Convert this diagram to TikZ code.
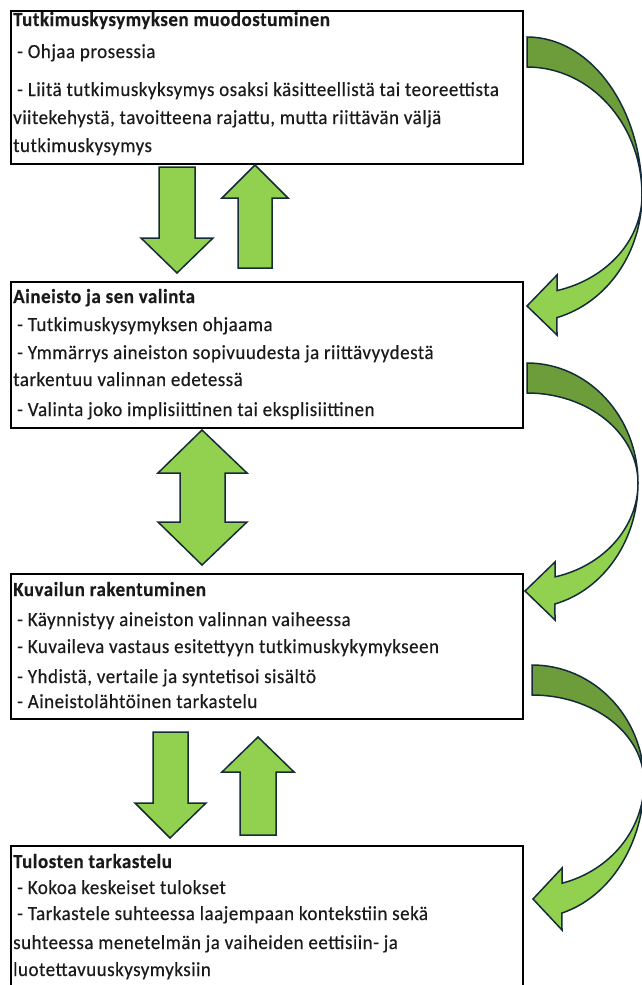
\documentclass[tikz,border=0pt]{standalone}
\usepackage{fontspec}
\setmainfont{Carlito}
\newfontfamily\boxfont[LetterSpace=2.5, FakeStretch=0.95, FakeBold=0.4]{Carlito}

\definecolor{arrowgreen}{HTML}{92D050}
\definecolor{arrowdark}{HTML}{6C9D3A}
\definecolor{arrowline}{HTML}{152C38}
\definecolor{textgray}{HTML}{1A1A1A}

\tikzset{
  stagebox/.style={draw=black, line width=2.4pt, rectangle, inner sep=0pt, anchor=north west, minimum width=512pt},
  headline/.style={anchor=base west, inner sep=0pt, text=textgray, font=\boxfont\fontsize{20}{22}\selectfont\bfseries},
  bodyline/.style={anchor=base west, inner sep=0pt, text=textgray, font=\boxfont\fontsize{20}{22}\selectfont},
  blockarrow/.style={fill=arrowgreen, draw=arrowline, line width=1.5pt, line join=miter},
  backarrow/.style={fill=arrowdark, draw=arrowline, line width=1.5pt},
}

\begin{document}
\begin{tikzpicture}[x=1pt, y=-1pt]
\useasboundingbox (0,0) rectangle (641,985);

% stage boxes
\node[stagebox, minimum height=153pt] (muodostus) at (10,10) {};
\node[stagebox, minimum height=146pt] (aineisto) at (10,281) {};
\node[stagebox, minimum height=145pt] (kuvailu) at (10,573) {};
\node[stagebox, minimum height=150pt] (tulokset) at (10,845) {};

% box texts
\node[headline] (muodT) at (13,26) {Tutkimuskysymyksen muodostuminen};
\node[bodyline] (muodA) at (17,58) {- Ohjaa prosessia};
\node[bodyline] (muodB) at (17,96) {- Liitä tutkimuskyksymys osaksi käsitteellistä tai teoreettista};
\node[bodyline] (muodC) at (13,124) {viitekehystä, tavoitteena rajattu, mutta riittävän väljä};
\node[bodyline] (muodD) at (13,152) {tutkimuskysymys};

\node[headline] (ainT) at (13,303) {Aineisto ja sen valinta};
\node[bodyline] (ainA) at (17,331) {- Tutkimuskysymyksen ohjaama};
\node[bodyline] (ainB) at (17,359) {- Ymmärrys aineiston sopivuudesta ja riittävyydestä};
\node[bodyline] (ainC) at (13,386) {tarkentuu valinnan edetessä};
\node[bodyline] (ainD) at (17,416) {- Valinta joko implisiittinen tai eksplisiittinen};

\node[headline] (kuvT) at (13,596) {Kuvailun rakentuminen};
\node[bodyline] (kuvA) at (17,626) {- Käynnistyy aineiston valinnan vaiheessa};
\node[bodyline] (kuvB) at (17,653) {- Kuvaileva vastaus esitettyyn tutkimuskykymykseen};
\node[bodyline] (kuvC) at (17,683) {- Yhdistä, vertaile ja syntetisoi sisältö};
\node[bodyline] (kuvD) at (17,708) {- Aineistolähtöinen tarkastelu};

\node[headline] (tulT) at (13,868) {Tulosten tarkastelu};
\node[bodyline] (tulA) at (17,894) {- Kokoa keskeiset tulokset};
\node[bodyline] (tulB) at (17,920) {- Tarkastele suhteessa laajempaan kontekstiin sekä};
\node[bodyline] (tulC) at (13,949) {suhteessa menetelmän ja vaiheiden eettisiin- ja};
\node[bodyline] (tulD) at (13,976) {luotettavuuskysymyksiin};

% straight block arrows
\draw[blockarrow] (159,167) -- (195,167) -- (195,238) -- (213,238) -- (177,273) -- (141,238) -- (159,238) -- cycle;
\draw[blockarrow] (238,268) -- (272,268) -- (272,198) -- (288,198) -- (255,165) -- (222,198) -- (238,198) -- cycle;
\draw[blockarrow] (202,430) -- (247,473) -- (225,473) -- (225,522) -- (247,522) -- (202,565) -- (158,522) -- (180,522) -- (180,473) -- (158,473) -- cycle;
\draw[blockarrow] (153,732) -- (188,732) -- (188,803) -- (206,803) -- (170,838) -- (135,803) -- (153,803) -- cycle;
\draw[blockarrow] (240,835) -- (276,835) -- (276,772) -- (294,772) -- (258,737) -- (222,772) -- (240,772) -- cycle;

% curved arrows on the right
\draw[backarrow] (527,37) arc[start angle=-90, end angle=0, x radius=115, y radius=158]
  arc[start angle=0, end angle=-90, x radius=115, y radius=128] -- cycle;
\draw[blockarrow] (642,195) arc[start angle=0, end angle=74.9, x radius=115, y radius=127]
  -- (557,335) -- (527,306) -- (557,275) -- (557,290.6)
  arc[start angle=74.9, end angle=0, x radius=115, y radius=99] -- cycle;

\draw[backarrow] (527,363) arc[start angle=-90, end angle=0, x radius=111, y radius=120]
  arc[start angle=0, end angle=-90, x radius=111, y radius=90] -- cycle;
\draw[blockarrow] (638,483) arc[start angle=0, end angle=75.4, x radius=111, y radius=125]
  -- (555,620) -- (525,591) -- (555,562) -- (555,576.9)
  arc[start angle=75.4, end angle=0, x radius=111, y radius=97] -- cycle;

\draw[backarrow] (532,665) arc[start angle=-90, end angle=0, x radius=112, y radius=117]
  arc[start angle=0, end angle=-90, x radius=112, y radius=87] -- cycle;
\draw[blockarrow] (644,782) arc[start angle=0, end angle=74.5, x radius=112, y radius=136]
  -- (562,930) -- (533,899) -- (562,868) -- (562,883.2)
  arc[start angle=74.5, end angle=0, x radius=112, y radius=105] -- cycle;
\end{tikzpicture}
\end{document}
